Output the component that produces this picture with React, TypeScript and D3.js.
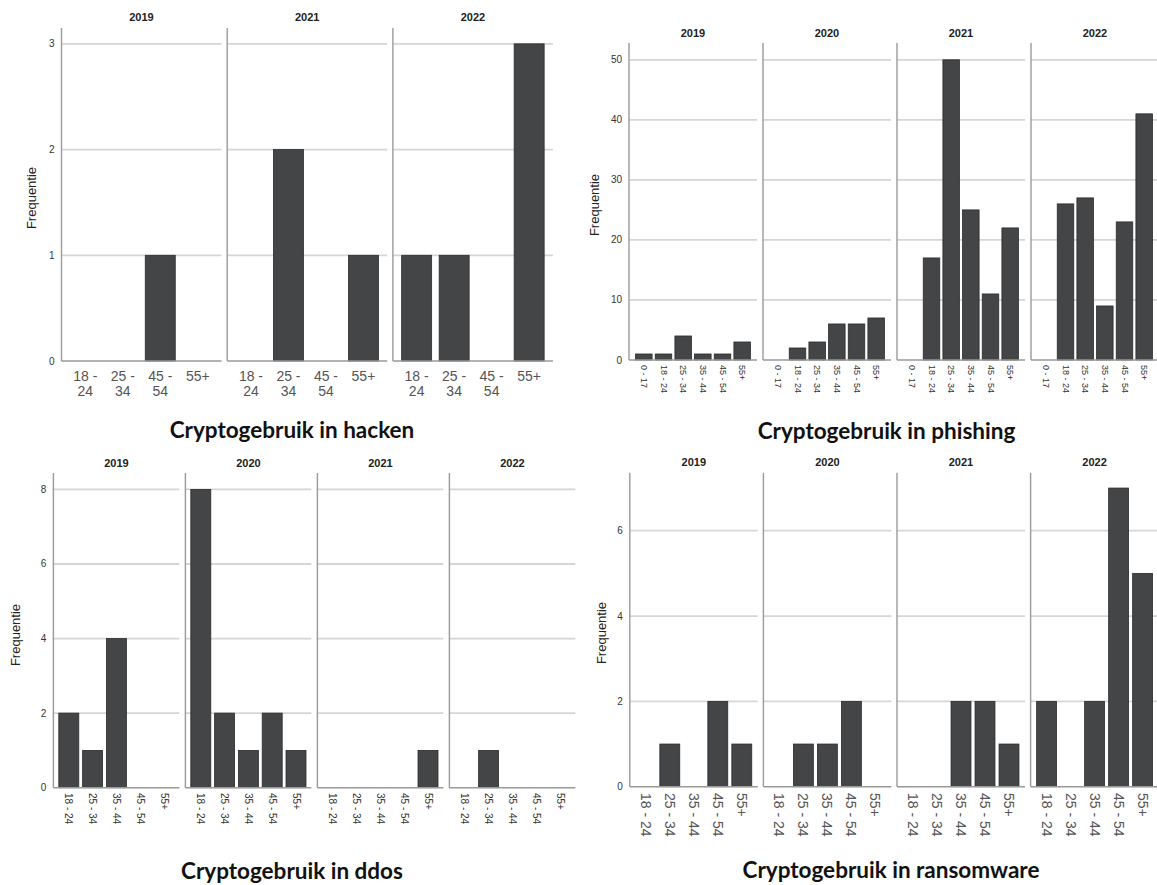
import React from "react";
import * as d3 from "d3";

// ---------- DATA ----------
const hackenCategories = ["18 - 24", "25 - 34", "45 - 54", "55+"];
const hackenYears = ["2019", "2021", "2022"];
const hacken2019 = [0, 0, 1, 0];
const hacken2021 = [0, 2, 0, 1];
const hacken2022 = [1, 1, 0, 3];
const hackenTicks = [0, 1, 2, 3];

const phishingCategories = ["0 - 17", "18 - 24", "25 - 34", "35 - 44", "45 - 54", "55+"];
const phishingYears = ["2019", "2020", "2021", "2022"];
const phishing2019 = [1, 1, 4, 1, 1, 3];
const phishing2020 = [0, 2, 3, 6, 6, 7];
const phishing2021 = [0, 17, 50, 25, 11, 22];
const phishing2022 = [0, 26, 27, 9, 23, 41];
const phishingTicks = [0, 10, 20, 30, 40, 50];

const ddosCategories = ["18 - 24", "25 - 34", "35 - 44", "45 - 54", "55+"];
const ddosYears = ["2019", "2020", "2021", "2022"];
const ddos2019 = [2, 1, 4, 0, 0];
const ddos2020 = [8, 2, 1, 2, 1];
const ddos2021 = [0, 0, 0, 0, 1];
const ddos2022 = [0, 1, 0, 0, 0];
const ddosTicks = [0, 2, 4, 6, 8];

const ransomCategories = ["18 - 24", "25 - 34", "35 - 44", "45 - 54", "55+"];
const ransomYears = ["2019", "2020", "2021", "2022"];
const ransom2019 = [0, 1, 0, 2, 1];
const ransom2020 = [0, 1, 1, 2, 0];
const ransom2021 = [0, 0, 2, 2, 1];
const ransom2022 = [2, 0, 2, 7, 5];
const ransomTicks = [0, 2, 4, 6];

const titles = [
  "Cryptogebruik in hacken",
  "Cryptogebruik in phishing",
  "Cryptogebruik in ddos",
  "Cryptogebruik in ransomware",
];
const yAxisLabel = "Frequentie";

// ---------- LAYOUT ----------
type Layout = {
  axisX: number;
  facetStep: number;
  facetWidth: number;
  inner: number;
  padding: number;
  baseline: number;
  top: number;
  yMax: number;
  facetTitleY: number;
  labelMode: "wrap" | "rot";
  labelY: number;
  labelSize: number;
  labelColor: string;
  titleX: number;
  titleY: number;
  yLabelX: number;
  yLabelY: number;
};

const SANS = "'Liberation Sans', Arial, sans-serif";

function Panel(props: {
  layout: Layout;
  categories: string[];
  years: string[];
  series: number[][];
  ticks: number[];
  title: string;
}) {
  const { layout: L, categories, years, series, ticks, title } = props;
  const y = d3.scaleLinear().domain([0, L.yMax]).range([L.baseline, L.top]);
  return (
    <g>
      {years.map((yr, fi) => {
        const x0 = L.axisX + fi * L.facetStep;
        const x = d3
          .scaleBand<string>()
          .domain(categories)
          .range([x0 + L.inner, x0 + L.facetWidth - L.inner])
          .paddingInner(L.padding)
          .paddingOuter(L.padding / 2);
        return (
          <g key={yr}>
            {ticks
              .filter((t) => t > 0)
              .map((t) => (
                <line
                  key={t}
                  x1={x0}
                  x2={x0 + L.facetWidth}
                  y1={y(t)}
                  y2={y(t)}
                  stroke="#d6d6d6"
                  strokeWidth={1.8}
                />
              ))}
            {categories.map((c, ci) => {
              const v = series[fi][ci];
              if (!v) return null;
              return (
                <rect
                  key={c}
                  x={x(c)}
                  y={y(v)}
                  width={x.bandwidth()}
                  height={y(0) - y(v)}
                  fill="#444547"
                  stroke="#2b2b2b"
                  strokeWidth={0.8}
                />
              );
            })}
            <line x1={x0} x2={x0} y1={L.top} y2={L.baseline} stroke="#9a9a9a" strokeWidth={1.4} />
            <line x1={x0} x2={x0 + L.facetWidth} y1={L.baseline} y2={L.baseline} stroke="#9a9a9a" strokeWidth={1.4} />
            <text
              x={x0 + L.facetWidth / 2}
              y={L.facetTitleY}
              textAnchor="middle"
              dominantBaseline="central"
              fontFamily={SANS}
              fontWeight="bold"
              fontSize={11}
              fill="#222"
            >
              {yr}
            </text>
            {categories.map((c) => {
              const cx = (x(c) as number) + x.bandwidth() / 2;
              if (L.labelMode === "wrap") {
                const parts = c.split(" - ");
                const lines = parts.length > 1 ? [parts[0] + " -", parts[1]] : [c];
                return (
                  <text
                    key={c}
                    textAnchor="middle"
                    fontFamily={SANS}
                    fontSize={L.labelSize}
                    fill={L.labelColor}
                  >
                    {lines.map((ln, li) => (
                      <tspan key={li} x={cx} y={L.labelY + li * 15} dominantBaseline="central">
                        {ln}
                      </tspan>
                    ))}
                  </text>
                );
              }
              return (
                <text
                  key={c}
                  x={cx}
                  y={L.labelY}
                  transform={`rotate(90, ${cx}, ${L.labelY})`}
                  textAnchor="start"
                  dominantBaseline="central"
                  fontFamily={SANS}
                  fontSize={L.labelSize}
                  fill={L.labelColor}
                >
                  {c}
                </text>
              );
            })}
          </g>
        );
      })}
      {ticks.map((t) => (
        <text
          key={t}
          x={L.axisX - 7}
          y={y(t)}
          textAnchor="end"
          dominantBaseline="central"
          fontFamily={SANS}
          fontSize={10}
          fill="#333"
        >
          {t}
        </text>
      ))}
      <text
        x={L.yLabelX}
        y={L.yLabelY}
        transform={`rotate(-90, ${L.yLabelX}, ${L.yLabelY})`}
        textAnchor="middle"
        dominantBaseline="central"
        fontFamily={SANS}
        fontSize={13}
        fill="#222"
      >
        {yAxisLabel}
      </text>
      <text
        x={L.titleX}
        y={L.titleY}
        textAnchor="middle"
        fontFamily="Lato, 'Open Sans', sans-serif"
        fontWeight="bold"
        fontSize={22.5}
        fill="#111"
      >
        {title}
      </text>
    </g>
  );
}

const hackenLayout: Layout = {
  axisX: 61.5, facetStep: 165.7, facetWidth: 160, inner: 5, padding: 0.2,
  baseline: 361, top: 28, yMax: 3.15, facetTitleY: 17,
  labelMode: "wrap", labelY: 376, labelSize: 14, labelColor: "#555",
  titleX: 292, titleY: 438, yLabelX: 31, yLabelY: 198,
};
const phishingLayout: Layout = {
  axisX: 629, facetStep: 134, facetWidth: 128, inner: 5, padding: 0.16,
  baseline: 360, top: 43, yMax: 52.8, facetTitleY: 33,
  labelMode: "rot", labelY: 365, labelSize: 9, labelColor: "#333",
  titleX: 886.5, titleY: 438.5, yLabelX: 594, yLabelY: 205,
};
const ddosLayout: Layout = {
  axisX: 53.4, facetStep: 132, facetWidth: 126, inner: 3.5, padding: 0.16,
  baseline: 787.7, top: 473, yMax: 8.44, facetTitleY: 463,
  labelMode: "rot", labelY: 793, labelSize: 10, labelColor: "#333",
  titleX: 292, titleY: 879, yLabelX: 15, yLabelY: 635,
};
const ransomLayout: Layout = {
  axisX: 629.8, facetStep: 133.6, facetWidth: 128, inner: 4, padding: 0.17,
  baseline: 786.7, top: 472.7, yMax: 7.36, facetTitleY: 462,
  labelMode: "rot", labelY: 793, labelSize: 14, labelColor: "#555",
  titleX: 891, titleY: 878, yLabelX: 601, yLabelY: 633,
};

export default function App() {
  return (
    <svg
      width={1157}
      height={885}
      style={{ position: "absolute", left: 0, top: 0, background: "#fff" }}
    >
      <rect width={1157} height={885} fill="#fff" />
      <Panel layout={hackenLayout} categories={hackenCategories} years={hackenYears}
        series={[hacken2019, hacken2021, hacken2022]} ticks={hackenTicks} title={titles[0]} />
      <Panel layout={phishingLayout} categories={phishingCategories} years={phishingYears}
        series={[phishing2019, phishing2020, phishing2021, phishing2022]} ticks={phishingTicks} title={titles[1]} />
      <Panel layout={ddosLayout} categories={ddosCategories} years={ddosYears}
        series={[ddos2019, ddos2020, ddos2021, ddos2022]} ticks={ddosTicks} title={titles[2]} />
      <Panel layout={ransomLayout} categories={ransomCategories} years={ransomYears}
        series={[ransom2019, ransom2020, ransom2021, ransom2022]} ticks={ransomTicks} title={titles[3]} />
    </svg>
  );
}
